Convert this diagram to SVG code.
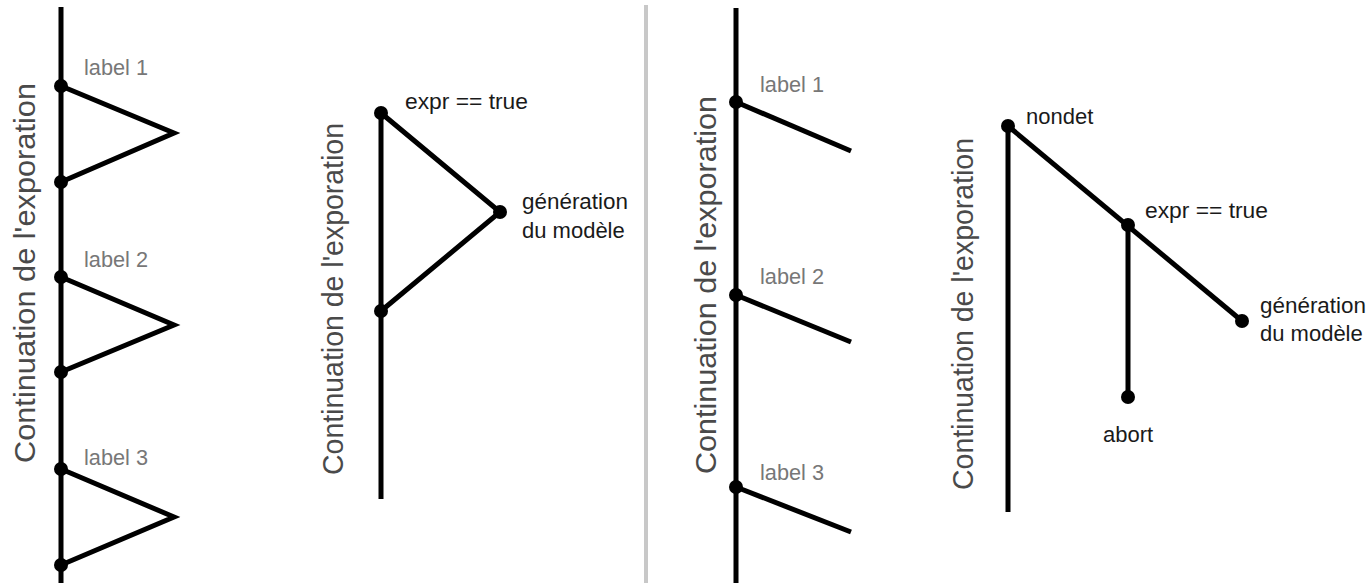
<svg xmlns="http://www.w3.org/2000/svg" width="1368" height="583" viewBox="0 0 1368 583">
<style>
.ln{stroke:#000;stroke-width:5;fill:none;stroke-linejoin:miter;stroke-linecap:butt}
.dot{fill:#000}
.lab{font-family:"Liberation Sans",Arial,sans-serif;font-size:22px;fill:#777}
.txt{font-family:"Liberation Sans",Arial,sans-serif;font-size:22px;fill:#1a1a1a}
.rot{font-family:"Liberation Sans",Arial,sans-serif;font-size:30px;fill:#4a4a4a}
</style>
<rect width="1368" height="583" fill="#fff"/>
<line x1="646" y1="5" x2="646" y2="583" stroke="#c8c8c8" stroke-width="4"/>
<g id="connectors">
<line class="ln" x1="61" y1="7" x2="61" y2="583"/>
<polyline class="ln" points="61,86 174,133 61,182"/>
<polyline class="ln" points="61,277 174,325 61,372"/>
<polyline class="ln" points="61,469 174,517 61,565"/>
<line class="ln" x1="381" y1="113" x2="381" y2="499"/>
<polyline class="ln" points="381,113 500,212 381,311"/>
<line class="ln" x1="736" y1="8" x2="736" y2="583"/>
<line class="ln" x1="736" y1="102" x2="851" y2="151"/>
<line class="ln" x1="736" y1="295" x2="851" y2="342"/>
<line class="ln" x1="736" y1="487" x2="851" y2="532"/>
<line class="ln" x1="1008" y1="126" x2="1008" y2="512"/>
<line class="ln" x1="1008" y1="126" x2="1242" y2="321"/>
<line class="ln" x1="1128" y1="225" x2="1128" y2="397"/>
</g>
<g id="panel1">
<text class="rot" transform="translate(35,463) rotate(-90)" textLength="380" lengthAdjust="spacingAndGlyphs">Continuation de l'exporation</text>
<g id="p1-n1"><circle class="dot" cx="61" cy="86" r="7"/><text class="lab" x="84" y="75" textLength="64" lengthAdjust="spacingAndGlyphs">label 1</text></g>
<g id="p1-n2"><circle class="dot" cx="61" cy="182" r="7"/></g>
<g id="p1-n3"><circle class="dot" cx="61" cy="277" r="7"/><text class="lab" x="84" y="267" textLength="64" lengthAdjust="spacingAndGlyphs">label 2</text></g>
<g id="p1-n4"><circle class="dot" cx="61" cy="372" r="7"/></g>
<g id="p1-n5"><circle class="dot" cx="61" cy="469" r="7"/><text class="lab" x="84" y="465" textLength="64" lengthAdjust="spacingAndGlyphs">label 3</text></g>
<g id="p1-n6"><circle class="dot" cx="61" cy="565" r="7"/></g>
</g>
<g id="panel2">
<text class="rot" transform="translate(343,475) rotate(-90)" textLength="352" lengthAdjust="spacingAndGlyphs">Continuation de l'exporation</text>
<g id="p2-expr"><circle class="dot" cx="381" cy="113" r="7"/><text class="txt" x="405" y="109" textLength="123" lengthAdjust="spacingAndGlyphs">expr == true</text></g>
<g id="p2-gen"><circle class="dot" cx="500" cy="212" r="7"/><text class="txt" x="522" y="209" textLength="106" lengthAdjust="spacingAndGlyphs">génération</text><text class="txt" x="522" y="238">du modèle</text></g>
<g id="p2-join"><circle class="dot" cx="381" cy="311" r="7"/></g>
</g>
<g id="panel3">
<text class="rot" transform="translate(716,474) rotate(-90)" textLength="378" lengthAdjust="spacingAndGlyphs">Continuation de l'exporation</text>
<g id="p3-n1"><circle class="dot" cx="736" cy="102" r="7"/><text class="lab" x="760" y="92" textLength="64" lengthAdjust="spacingAndGlyphs">label 1</text></g>
<g id="p3-n2"><circle class="dot" cx="736" cy="295" r="7"/><text class="lab" x="760" y="284" textLength="64" lengthAdjust="spacingAndGlyphs">label 2</text></g>
<g id="p3-n3"><circle class="dot" cx="736" cy="487" r="7"/><text class="lab" x="760" y="480" textLength="64" lengthAdjust="spacingAndGlyphs">label 3</text></g>
</g>
<g id="panel4">
<text class="rot" transform="translate(973,490) rotate(-90)" textLength="352" lengthAdjust="spacingAndGlyphs">Continuation de l'exporation</text>
<g id="p4-nondet"><circle class="dot" cx="1008" cy="126" r="7"/><text class="txt" x="1026" y="124">nondet</text></g>
<g id="p4-expr"><circle class="dot" cx="1128" cy="225" r="7"/><text class="txt" x="1145" y="218" textLength="123" lengthAdjust="spacingAndGlyphs">expr == true</text></g>
<g id="p4-gen"><circle class="dot" cx="1242" cy="321" r="7"/><text class="txt" x="1260" y="313" textLength="106" lengthAdjust="spacingAndGlyphs">génération</text><text class="txt" x="1260" y="341">du modèle</text></g>
<g id="p4-abort"><circle class="dot" cx="1128" cy="397" r="7"/><text class="txt" x="1103" y="442">abort</text></g>
</g>
</svg>
